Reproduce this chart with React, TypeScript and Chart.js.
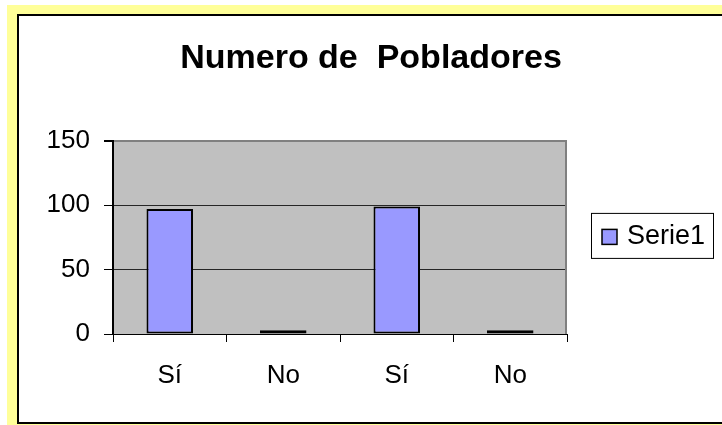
import React, { useEffect, useRef } from 'react';
import { Chart, registerables } from 'chart.js';

Chart.register(...registerables);

const chartTitle = 'Numero de  Pobladores';
const categories = ['Sí', 'No', 'Sí', 'No'];
const seriesName = 'Serie1';
const serie1 = [97, 3, 99, 3];
const yTicks = [0, 50, 100, 150];

const FONT = "'Liberation Sans', Arial, sans-serif";

const plotArea = {
  id: 'plotArea',
  beforeDraw(chart: any) {
    const { ctx, chartArea } = chart;
    ctx.save();
    ctx.fillStyle = '#C0C0C0';
    ctx.fillRect(chartArea.left, chartArea.top, chartArea.right - chartArea.left, chartArea.bottom - chartArea.top);
    ctx.restore();
  },
  beforeDatasetsDraw(chart: any) {
    const { ctx, chartArea } = chart;
    ctx.save();
    ctx.strokeStyle = '#808080';
    ctx.lineWidth = 2;
    ctx.beginPath();
    ctx.moveTo(chartArea.right - 1, chartArea.top);
    ctx.lineTo(chartArea.right - 1, chartArea.bottom);
    ctx.stroke();
    ctx.restore();
  },
};

const boxedLegend = {
  id: 'boxedLegend',
  afterDraw(chart: any) {
    const { ctx, chartArea } = chart;
    const ds = chart.data.datasets[0];
    const w = 123;
    const h = 46;
    const x = chartArea.right + 24;
    const cy = (chartArea.top + chartArea.bottom) / 2 - 1.5;
    const y = cy - h / 2;
    ctx.save();
    ctx.fillStyle = '#ffffff';
    ctx.fillRect(x, y, w, h);
    ctx.strokeStyle = '#000000';
    ctx.lineWidth = 1;
    ctx.strokeRect(x + 0.5, y + 0.5, w - 1, h - 1);
    const m = 15;
    ctx.fillStyle = ds.backgroundColor;
    ctx.fillRect(x + 11, cy - m / 2 + 1, m, m);
    ctx.lineWidth = 1.5;
    ctx.strokeRect(x + 11, cy - m / 2 + 1, m, m);
    ctx.fillStyle = '#000000';
    ctx.font = `27px ${FONT}`;
    ctx.textBaseline = 'middle';
    ctx.textAlign = 'left';
    ctx.fillText(ds.label, x + 36, cy + 1);
    ctx.restore();
  },
};

export default function App() {
  const ref = useRef<HTMLCanvasElement | null>(null);

  useEffect(() => {
    document.body.style.margin = '0';
    if (!ref.current) return;
    const chart = new Chart(ref.current, {
      type: 'bar',
      data: {
        labels: categories,
        datasets: [
          {
            label: seriesName,
            data: serie1,
            backgroundColor: '#9999FF',
            borderColor: '#000000',
            borderWidth: 2,
            borderSkipped: false,
            barPercentage: 0.41,
            categoryPercentage: 1.0,
          },
        ],
      },
      options: {
        responsive: false,
        animation: false,
        devicePixelRatio: 1,
        layout: { padding: { left: 20, right: 0, top: 0, bottom: 0 } },
        plugins: {
          legend: { display: false },
          tooltip: { enabled: false },
          title: {
            display: true,
            text: chartTitle,
            color: '#000000',
            font: { family: FONT, size: 34, weight: 'bold', lineHeight: 1.2 },
            padding: { top: 38, bottom: 62 },
          },
        },
        scales: {
          x: {
            type: 'category',
            grid: {
              offset: true,
              drawOnChartArea: false,
              drawTicks: true,
              tickLength: 8,
              tickColor: '#000000',
            },
            border: { display: true, color: '#000000', width: 1 },
            ticks: {
              color: '#000000',
              font: { family: FONT, size: 26 },
              padding: 18,
              maxRotation: 0,
            },
            afterFit(s: any) {
              s.height = 91;
            },
          },
          y: {
            type: 'linear',
            position: 'left',
            min: 0,
            max: 150,
            afterBuildTicks(s: any) {
              s.ticks = yTicks.map((v) => ({ value: v }));
            },
            grid: {
              color: (c: any) => (c.tick && c.tick.value === 150 ? '#808080' : '#262626'),
              lineWidth: (c: any) => (c.tick && c.tick.value === 150 ? 2 : 1),
              tickLength: 9,
              tickColor: '#000000',
            },
            border: { display: true, color: '#000000', width: 2 },
            ticks: {
              color: '#000000',
              font: { family: FONT, size: 26 },
              padding: 14,
            },
            afterFit(s: any) {
              s.width = 93;
            },
          },
          yRight: {
            type: 'linear',
            position: 'right',
            display: true,
            grid: { display: false, drawTicks: false },
            border: { display: false },
            ticks: { display: false },
            afterFit(s: any) {
              s.width = 155;
            },
          },
        },
      },
      plugins: [plotArea, boxedLegend],
    });
    return () => chart.destroy();
  }, []);

  return (
    <div style={{ position: 'fixed', left: 0, top: 0, width: 722, height: 425, background: '#ffffff', overflow: 'hidden' }}>
      <div style={{ position: 'absolute', left: 7, top: 5, right: 0, bottom: 0, background: '#FFFF99' }} />
      <div
        style={{
          position: 'absolute',
          left: 17,
          top: 14,
          width: 800,
          height: 410,
          background: '#ffffff',
          border: '2px solid #000000',
          boxSizing: 'border-box',
        }}
      />
      <canvas ref={ref} width={722} height={425} style={{ position: 'absolute', left: 0, top: 0 }} />
    </div>
  );
}
